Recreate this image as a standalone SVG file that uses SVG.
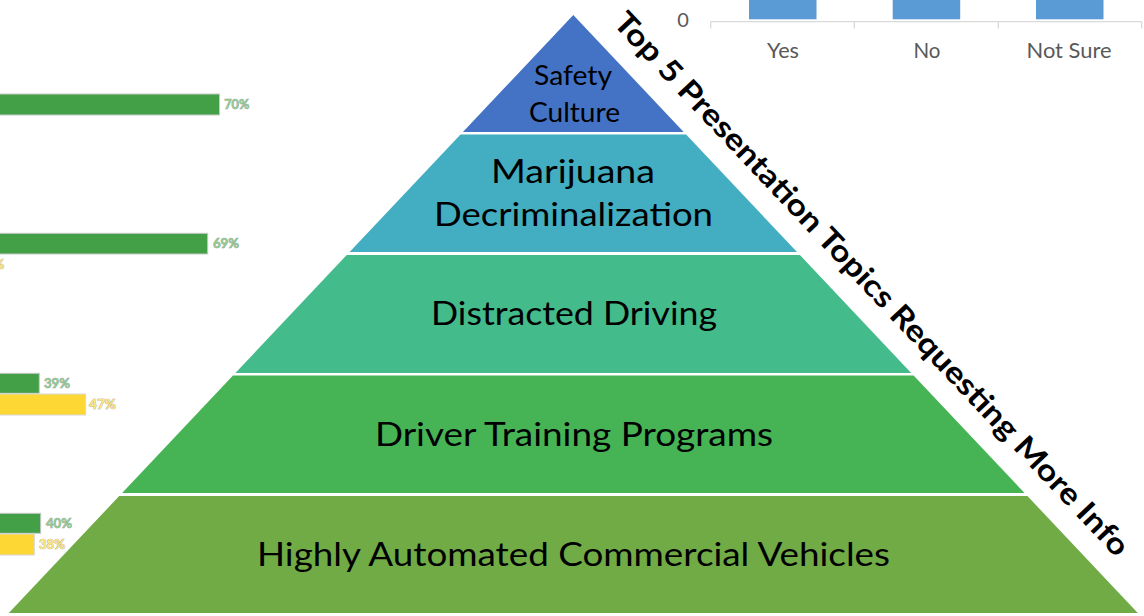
<svg xmlns="http://www.w3.org/2000/svg" width="1144" height="616" viewBox="0 0 1144 616">
<style>
.lvl{font-family:Lato,"Open Sans","Liberation Sans",sans-serif;fill:#000;text-anchor:middle}
.title{font-family:Lato,"Open Sans","Liberation Sans",sans-serif;font-weight:bold;font-size:30px;fill:#000;text-anchor:middle}
.ax{font-family:Lato,"Open Sans","Liberation Sans",sans-serif;fill:#595959;text-anchor:middle}
.pct{font-family:Lato,"Liberation Sans",sans-serif;font-weight:bold;font-size:12.5px;stroke:#9a9a9a;stroke-width:0.6;paint-order:stroke}
.pg{fill:#8fca8f}
.py{fill:#ffe57a}
.bg{fill:#43a047;stroke:#c8c8c8;stroke-width:1}
.by{fill:#fdd835;stroke:#d8d8d8;stroke-width:1}
.col{fill:#5b9bd5}
</style>
<rect width="1144" height="616" fill="#ffffff"/>

<g id="column-chart">
  <text class="ax" x="683" y="27" font-size="20">0</text>
  <rect class="col" x="749" y="-2" width="67.5" height="21.3"/>
  <rect class="col" x="892.7" y="-2" width="67.5" height="21.3"/>
  <rect class="col" x="1036" y="-2" width="67.5" height="21.3"/>
  <path d="M710.7 21.7H1141.7M710.7 21.7V28.5M854.3 21.7V28.5M998.3 21.7V28.5M1141.7 21.7V28.5" stroke="#d9d9d9" stroke-width="1.3" fill="none"/>
  <text class="ax" x="783" y="58" font-size="21" textLength="32" lengthAdjust="spacingAndGlyphs">Yes</text>
  <text class="ax" x="927" y="58" font-size="21" textLength="27" lengthAdjust="spacingAndGlyphs">No</text>
  <text class="ax" x="1069" y="58" font-size="21" textLength="85" lengthAdjust="spacingAndGlyphs">Not Sure</text>
</g>

<g id="bar-chart">
  <rect class="bg" x="-2" y="94" width="221.5" height="21"/>
  <text class="pct pg" x="224.3" y="109.3" textLength="25" lengthAdjust="spacingAndGlyphs">70%</text>
  <rect class="bg" x="-2" y="233.3" width="209.7" height="20.7"/>
  <text class="pct pg" x="213" y="248" textLength="26" lengthAdjust="spacingAndGlyphs">69%</text>
  <text class="pct py" x="-6" y="268.5">%</text>
  <rect class="bg" x="-2" y="373.3" width="41.3" height="20"/>
  <text class="pct pg" x="44" y="388.3" textLength="26" lengthAdjust="spacingAndGlyphs">39%</text>
  <rect class="by" x="-2" y="394" width="87.7" height="21"/>
  <text class="pct py" x="89" y="409.3" textLength="27" lengthAdjust="spacingAndGlyphs">47%</text>
  <rect class="bg" x="-2" y="513.3" width="42.7" height="20"/>
  <text class="pct pg" x="46" y="528.3" textLength="26" lengthAdjust="spacingAndGlyphs">40%</text>
  <rect class="by" x="-2" y="534" width="36.3" height="21"/>
  <text class="pct py" x="39" y="548.5" textLength="26" lengthAdjust="spacingAndGlyphs">38%</text>
</g>

<g id="level-1">
  <polygon points="573.3,15 683.7,132 462.9,132" fill="#4472c4"/>
  <text class="lvl" x="573" y="85" font-size="27" textLength="78" lengthAdjust="spacingAndGlyphs">Safety</text>
  <text class="lvl" x="574.5" y="121.7" font-size="27" textLength="91" lengthAdjust="spacingAndGlyphs">Culture</text>
</g>
<g id="level-2">
  <polygon points="460.5,134.5 686.1,134.5 797,252 349.6,252" fill="#43aec1"/>
  <text class="lvl" x="573" y="183.3" font-size="32.5" textLength="164" lengthAdjust="spacingAndGlyphs">Marijuana</text>
  <text class="lvl" x="573.5" y="226" font-size="32.5" textLength="279" lengthAdjust="spacingAndGlyphs">Decriminalization</text>
</g>
<g id="level-3">
  <polygon points="346.7,255 799.9,255 911.2,373 235.4,373" fill="#44bb8b"/>
  <text class="lvl" x="574" y="325" font-size="32.5" textLength="286" lengthAdjust="spacingAndGlyphs">Distracted Driving</text>
</g>
<g id="level-4">
  <polygon points="233,375.5 913.6,375.5 1024.5,493 122.1,493" fill="#46b354"/>
  <text class="lvl" x="574" y="445.7" font-size="32.5" textLength="398" lengthAdjust="spacingAndGlyphs">Driver Training Programs</text>
</g>
<g id="level-5">
  <polygon points="119.2,496 1027.4,496 1137.8,613 8.8,613" fill="#70ab46"/>
  <text class="lvl" x="573.5" y="565.7" font-size="32.5" textLength="633" lengthAdjust="spacingAndGlyphs">Highly Automated Commercial Vehicles</text>
</g>

<g id="title">
  <text class="title" transform="translate(848.2,306.2) rotate(46.65)" x="0" y="-22" textLength="735" lengthAdjust="spacingAndGlyphs">Top 5 Presentation Topics Requesting More Info</text>
</g>

<g id="connectors"></g>
</svg>
